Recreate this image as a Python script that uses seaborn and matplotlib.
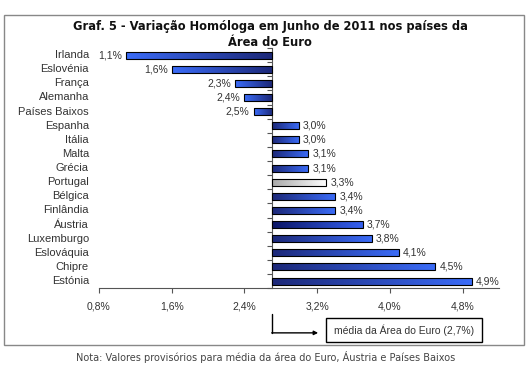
import numpy as np
import pandas as pd
import matplotlib
matplotlib.use("Agg")
import matplotlib.pyplot as plt
import matplotlib.transforms as mtransforms
from matplotlib.patches import Rectangle
from matplotlib.colors import to_rgb
import seaborn as sns

countries = ["Irlanda", "Eslovénia", "França", "Alemanha", "Países Baixos", "Espanha",
             "Itália", "Malta", "Grécia", "Portugal", "Bélgica", "Finlândia", "Áustria",
             "Luxemburgo", "Eslováquia", "Chipre", "Estónia"]
values = [1.1, 1.6, 2.3, 2.4, 2.5, 3.0, 3.0, 3.1, 3.1, 3.3, 3.4, 3.4, 3.7, 3.8, 4.1, 4.5, 4.9]
euro_mean = 2.7
xtick_values = [0.8, 1.6, 2.4, 3.2, 4.0, 4.8]
title = "Graf. 5 - Variação Homóloga em Junho de 2011 nos países da\nÁrea do Euro"
note = "Nota: Valores provisórios para média da área do Euro, Áustria e Países Baixos"
mean_label = "média da Área do Euro (2,7%)"

sns.set_style("white")
plt.rcParams["font.family"] = ["Liberation Sans", "DejaVu Sans"]

df = pd.DataFrame({"country": countries, "value": values})
df["dev"] = df["value"] - euro_mean

fig = plt.figure(figsize=(5.32, 3.67), dpi=100)
ax = fig.add_axes([0.186, 0.215, 0.752, 0.654])

sns.barplot(data=df, x="dev", y="country", orient="h", width=0.5, ax=ax,
            color="#3050d0", saturation=1, edgecolor="black", linewidth=0.8)

xmin, xmax = 0.8 - euro_mean, 5.2 - euro_mean
ax.set_xlim(xmin, xmax)
n = len(countries)
ax.set_ylim(n - 0.5, -0.5)

# gradient fills
for i, p in enumerate(ax.patches):
    c = countries[i]
    if c == "Portugal":
        c0, c1 = to_rgb("#a9a9a9"), to_rgb("#ffffff")
    elif c == "Áustria":
        c0, c1 = to_rgb("#0a1565"), to_rgb("#3560f0")
    else:
        c0, c1 = to_rgb("#1c2878"), to_rgb("#3b6cf8")
    t = np.linspace(0, 1, 128)[None, :, None]
    grad = np.array(c0)[None, None, :] * (1 - t) + np.array(c1)[None, None, :] * t
    y, h = p.get_y(), p.get_height()
    d = df["dev"].iloc[i]
    im = ax.imshow(grad, extent=(0, d, y + h, y), aspect="auto", zorder=2,
                   interpolation="bilinear")
    im.set_clip_path(p)
    p.set_facecolor("none")
    p.set_zorder(3)

ax.set_xlim(xmin, xmax)
ax.set_ylim(n - 0.5, -0.5)

# value labels
for i, (v, d) in enumerate(zip(values, df["dev"])):
    txt = f"{v:.1f}%".replace(".", ",")
    if d < 0:
        ax.annotate(txt, (d, i), xytext=(-3, 0), textcoords="offset points",
                    ha="right", va="center", fontsize=7.5, color="#333333")
    else:
        ax.annotate(txt, (d, i), xytext=(3, 0), textcoords="offset points",
                    ha="left", va="center", fontsize=7.5, color="#333333")

# category labels at far left
trans = mtransforms.blended_transform_factory(ax.transAxes, ax.transData)
for i, c in enumerate(countries):
    ax.text(-0.025, i, c, transform=trans, ha="right", va="center",
            fontsize=8, color="#333333")

# axes styling
ax.set_xlabel("")
ax.set_ylabel("")
ax.set_xticks([t - euro_mean for t in xtick_values])
ax.set_xticklabels([f"{t:.1f}%".replace(".", ",") for t in xtick_values],
                   fontsize=7.5, color="#333333")
ax.set_yticks(np.arange(-0.5, n, 1.0))
ax.set_yticklabels([])
ax.spines["left"].set_position(("data", 0))
for s in ["top", "right"]:
    ax.spines[s].set_visible(False)
ax.spines["left"].set_color("#555555")
ax.spines["bottom"].set_color("#555555")
ax.spines["left"].set_linewidth(0.8)
ax.spines["bottom"].set_linewidth(0.8)
ax.tick_params(axis="both", direction="out", length=3.5, width=0.8, color="#555555",
               left=True, bottom=True)
ax.tick_params(axis="x", pad=6)
ax.set_facecolor("none")

# mean annotation
bt = mtransforms.blended_transform_factory(ax.transData, fig.transFigure)
ax.plot([0, 0], [0.144, 0.093], transform=bt, color="black", lw=1, clip_on=False)
x_end = fig.transFigure.inverted().transform(ax.transData.transform((0, 0)))[0]
ax.annotate("", xy=(0.598, 0.093), xytext=(x_end, 0.093), xycoords="figure fraction",
            textcoords="figure fraction",
            arrowprops=dict(arrowstyle="-|>", color="black", lw=1, mutation_scale=6,
                            shrinkA=0, shrinkB=0))
fig.patches.append(Rectangle((0.613, 0.068), 0.293, 0.066, transform=fig.transFigure,
                             facecolor="white", edgecolor="black", lw=1))
fig.text(0.759, 0.101, mean_label, ha="center", va="center", fontsize=7.5, color="#333333")

# outer border
fig.patches.append(Rectangle((0.0075, 0.060), 0.977, 0.899, transform=fig.transFigure,
                             facecolor="none", edgecolor="#888888", lw=1))

fig.text(0.508, 0.945, title, ha="center", va="top", fontsize=8.3, fontweight="bold",
         family="DejaVu Sans", linespacing=1.3, color="#111111")
fig.text(0.5, 0.027, note, ha="center", va="center", fontsize=7, family="DejaVu Sans",
         color="#444444")

fig.savefig("out.png", dpi=100)
